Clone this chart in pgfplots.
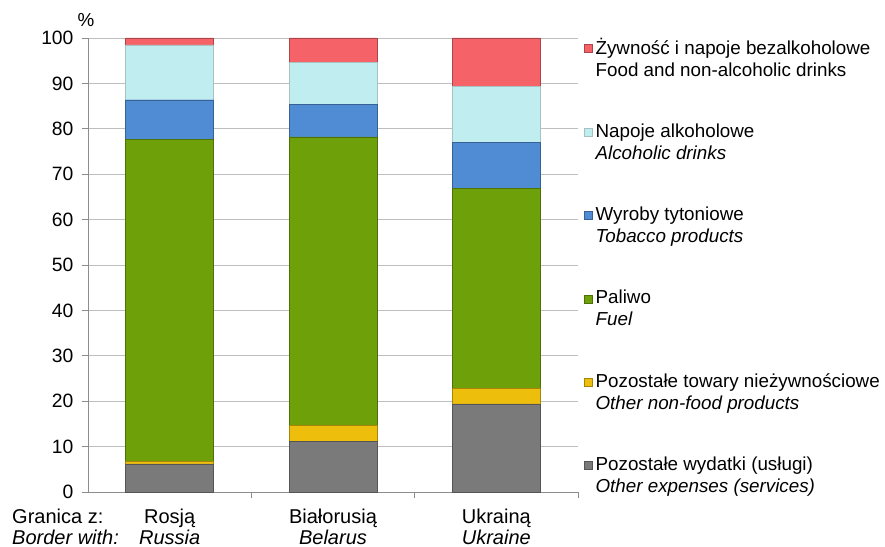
\documentclass[border=0pt]{standalone}
\usepackage{pgfplots}
\pgfplotsset{compat=1.18}
\usepackage{pgfplotstable}
\usepackage{fontspec}
\setmainfont{Liberation Sans}
\definecolor{cfood}{RGB}{245,98,104}
\definecolor{calc}{RGB}{192,238,240}
\definecolor{ctob}{RGB}{80,140,212}
\definecolor{cfuel}{RGB}{110,160,10}
\definecolor{cnon}{RGB}{238,190,12}
\definecolor{cserv}{RGB}{122,122,122}
\definecolor{cgrid}{RGB}{190,190,190}
\definecolor{caxis}{RGB}{140,140,140}
\pgfplotstableread{
x serv non fuel tob alc food
0 6.2 0.5 71.0 8.7 12.1 1.5
1 11.1 3.6 63.5 7.2 9.2 5.4
2 19.4 3.5 44.0 10.1 12.3 10.7
}\data
\begin{document}
\begin{tikzpicture}[font=\fontsize{18.8}{22}\selectfont]
\begin{axis}[name=ax,
  scale only axis, width=490pt, height=454pt,
  ybar stacked, bar width=88pt,
  xmin=-0.5, xmax=2.5, ymin=0, ymax=100,
  xtick={0,1,2},
  xticklabels={Rosją,Białorusią,Ukrainą},
  xticklabel style={anchor=base, inner sep=0pt, yshift=-25pt, font=\fontsize{20}{21.6}\selectfont},
  major x tick style={draw=none},
  extra x ticks={0,1,2},
  extra x tick labels={\textit{Russia},\textit{Belarus},\textit{Ukraine}},
  extra x tick style={grid=none, major x tick style={draw=none},
    xticklabel style={yshift=-21.5pt}},
  minor xtick={0.5,1.5,2.5},
  minor tick length=6pt, minor x tick style={draw=caxis, line width=0.8pt},
  ytick={0,10,...,100},
  ymajorgrids, grid style={cgrid, line width=0.8pt},
  axis x line*=bottom, axis y line*=left,
  axis line style={caxis, line width=0.8pt, -},
  y tick style={caxis, line width=0.8pt},
  tick align=outside, major tick length=6pt,
  /pgf/number format/assume math mode=true,
  yticklabel style={xshift=-5pt, font=\fontsize{19.3}{22}\selectfont},
  reverse legend,
  legend style={at={(1,1)}, anchor=north west, xshift=6pt, yshift=2pt, draw=none, fill=none,
    cells={align=left, anchor=west}, row sep=42pt, inner sep=0pt,
    nodes={inner xsep=3pt}},
  legend image code/.code={\draw[#1, line width=0.4pt] (0pt,6pt) rectangle (8pt,14pt);},
]
\addplot[fill=cserv, draw=cserv!70!black] table[x=x,y=serv]{\data};
\addlegendentry{Pozostałe wydatki (usługi)\\\textit{Other expenses (services)}}
\addplot[fill=cnon, draw=cnon!70!black] table[x=x,y=non]{\data};
\addlegendentry{Pozostałe towary nieżywnościowe\\\textit{Other non-food products}}
\addplot[fill=cfuel, draw=cfuel!70!black] table[x=x,y=fuel]{\data};
\addlegendentry{Paliwo\\\textit{Fuel}}
\addplot[fill=ctob, draw=ctob!70!black] table[x=x,y=tob]{\data};
\addlegendentry{Wyroby tytoniowe\\\textit{Tobacco products}}
\addplot[fill=calc, draw=calc!60!gray] table[x=x,y=alc]{\data};
\addlegendentry{Napoje alkoholowe\\\textit{Alcoholic drinks}}
\addplot[fill=cfood, draw=cfood!70!black] table[x=x,y=food]{\data};
\addlegendentry{Żywność i napoje bezalkoholowe\\Food and non-alcoholic drinks}
\end{axis}
\node[anchor=south, inner sep=0pt] at ([shift={(-2pt,11pt)}]ax.north west) {\%};
\node[anchor=base west, inner sep=0pt, font=\fontsize{20}{22.3}\selectfont] at ([shift={(-76pt,-31pt)}]ax.south west) {Granica z:};
\node[anchor=base west, inner sep=0pt, font=\fontsize{20}{22.3}\selectfont] at ([shift={(-76pt,-52.5pt)}]ax.south west) {\textit{Border with:}};
\pgfresetboundingbox
\path ([shift={(-88pt,-54pt)}]ax.south west) rectangle ([shift={(307pt,38pt)}]ax.north east);
\end{tikzpicture}
\end{document}
